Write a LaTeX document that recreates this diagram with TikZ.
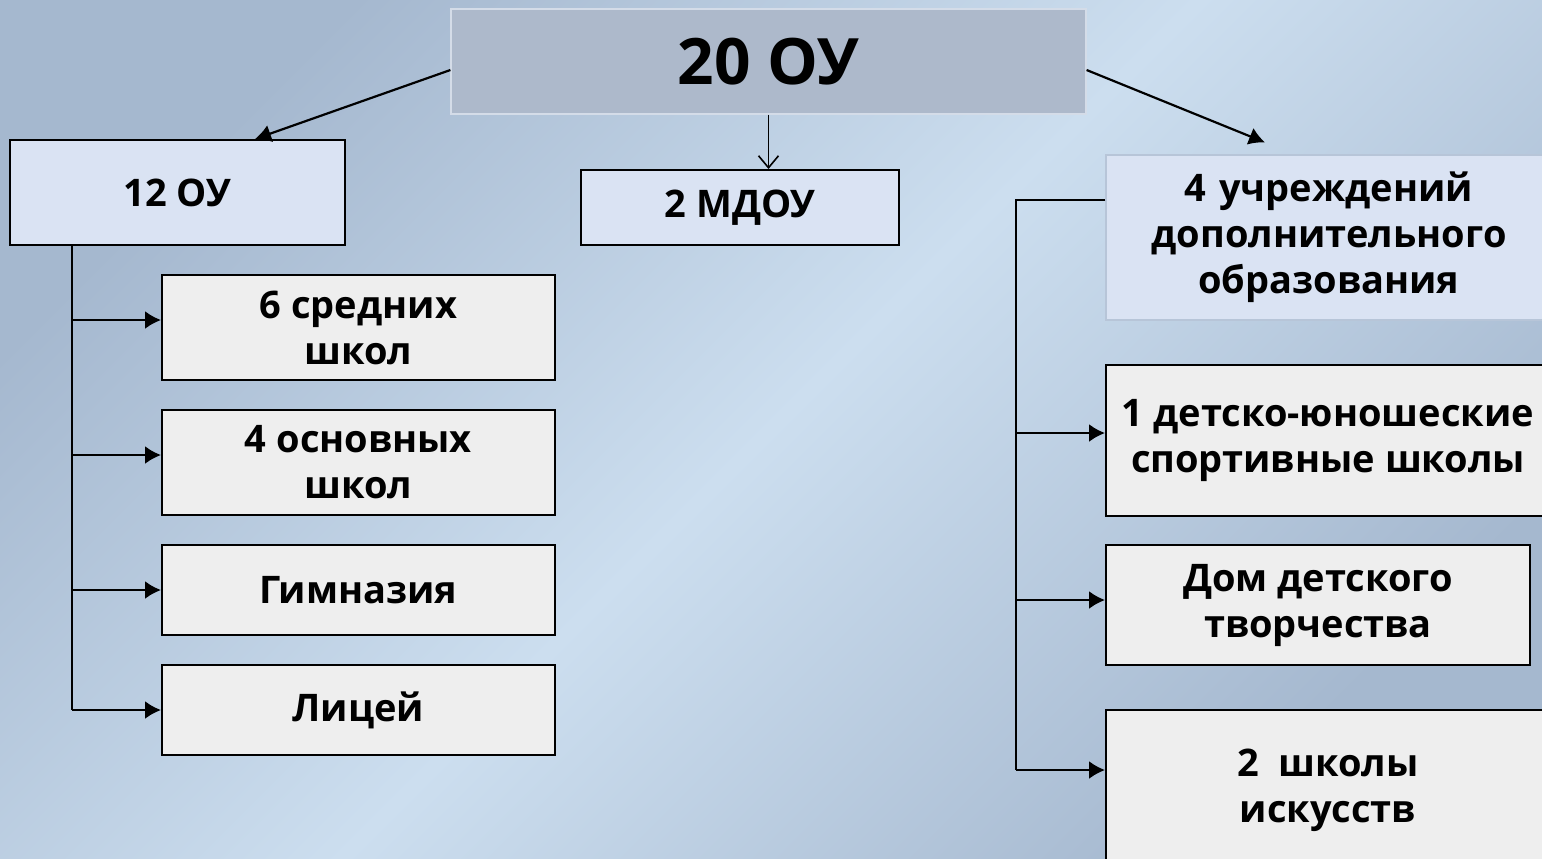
\documentclass[tikz,border=0pt]{standalone}
\usepackage{fontspec}
\setmainfont{Open Sans}
\usetikzlibrary{calc}
\usetikzlibrary{shapes,arrows.meta}

\definecolor{bgdark}{HTML}{A5B8CF}
\definecolor{bglight}{HTML}{CCDEEF}
\definecolor{headfill}{HTML}{ADB9CB}
\definecolor{bluefill}{HTML}{DAE3F3}
\definecolor{greyfill}{HTML}{EEEEEE}
\definecolor{paleline}{HTML}{B7C5D8}

\tikzset{
  box/.style={draw=black,line width=1pt,align=center,inner sep=2pt,
    font=\bfseries\fontsize{19}{23}\selectfont},
  bluebox/.style={box,fill=bluefill},
  greybox/.style={box,fill=greyfill},
  arr/.style={-{Latex[length=8pt,width=9pt]},line width=1.1pt},
  tree/.style={line width=1.1pt}
}

\begin{document}
\begin{tikzpicture}[x=0.5pt,y=-0.5pt]
    \useasboundingbox (0,0) rectangle (1542,858);
    \shade[top color=bgdark,bottom color=bgdark,middle color=bglight,shading angle=45]
      (0,0) rectangle (1542,858);

    % top of the tree
    \node[box,fill=headfill,draw=paleline!60!white,line width=0.6pt,
      minimum width=317.5pt,minimum height=52.5pt,
      font=\bfseries\fontsize{32}{38}\selectfont] (all) at (768.5,61.5) {20 ОУ};

    % three groups
    \node[bluebox,minimum width=167.5pt,minimum height=52.5pt] (ou) at (177.5,192.5) {12 ОУ};
    \node[bluebox,minimum width=159pt,minimum height=37.5pt] (mdou) at (740,207.5) {2 МДОУ};
    \node[bluebox,draw=paleline,line width=0.6pt,minimum width=223pt,minimum height=82.5pt,
      text width=215pt] (dop) at (1329,237.5) {4 учреждений\\дополнительного\\образования};

    % schools
    \node[greybox,minimum width=196.5pt,minimum height=52.5pt] (sred) at (358.5,327.5) {6 средних\\школ};
    \node[greybox,minimum width=196.5pt,minimum height=52.5pt] (osn) at (358.5,462.5) {4 основных\\школ};
    \node[greybox,minimum width=196.5pt,minimum height=45pt] (gimn) at (358.5,590) {Гимназия};
    \node[greybox,minimum width=196.5pt,minimum height=45pt] (lic) at (358.5,710) {Лицей};

    % additional education
    \node[greybox,minimum width=222pt,minimum height=75.5pt] (dyush) at (1328,440.5) {1 детско-юношеские\\спортивные школы};
    \node[greybox,minimum width=212pt,minimum height=60pt] (ddt) at (1318,605) {Дом детского\\творчества};
    \node[greybox,minimum width=222pt,minimum height=80pt] (art) at (1328,790) {2~~школы\\искусств};

    % arrows from the top
    \draw[arr] ([yshift=-4.25pt]all.west) -- ([xshift=38.75pt]ou.north);
    \draw[-{Straight Barb[length=6pt,width=10pt]},line width=0.8pt] (all.south) -- (all.south |- mdou.north);
    \draw[arr] ([yshift=-4.25pt]all.east) -- ([xshift=-32pt,yshift=6pt]dop.north);

    % left trunk
    \coordinate (lt) at (72,245);
    \coordinate (lb) at (72,710);
    \draw[tree] (lt) -- (lb);
    \draw[arr] (lt |- 0,320) -- ([yshift=3.75pt]sred.west);
    \draw[arr] (lt |- 0,455) -- ([yshift=3.75pt]osn.west);
    \draw[arr] (lt |- 0,590) -- (gimn.west);
    \draw[arr] (lb) -- (lic.west);

    % right trunk
    \coordinate (rt) at (1016,200);
    \coordinate (rb) at (1016,770);
    \draw[tree] (rt -| dop.west) -- (rt) -- (rb);
    \draw[arr] (rt |- 0,433) -- ([yshift=3.75pt]dyush.west);
    \draw[arr] (rt |- 0,600) -- ([yshift=2.5pt]ddt.west);
    \draw[arr] (rb) -- ([yshift=10pt]art.west);
\end{tikzpicture}
\end{document}
